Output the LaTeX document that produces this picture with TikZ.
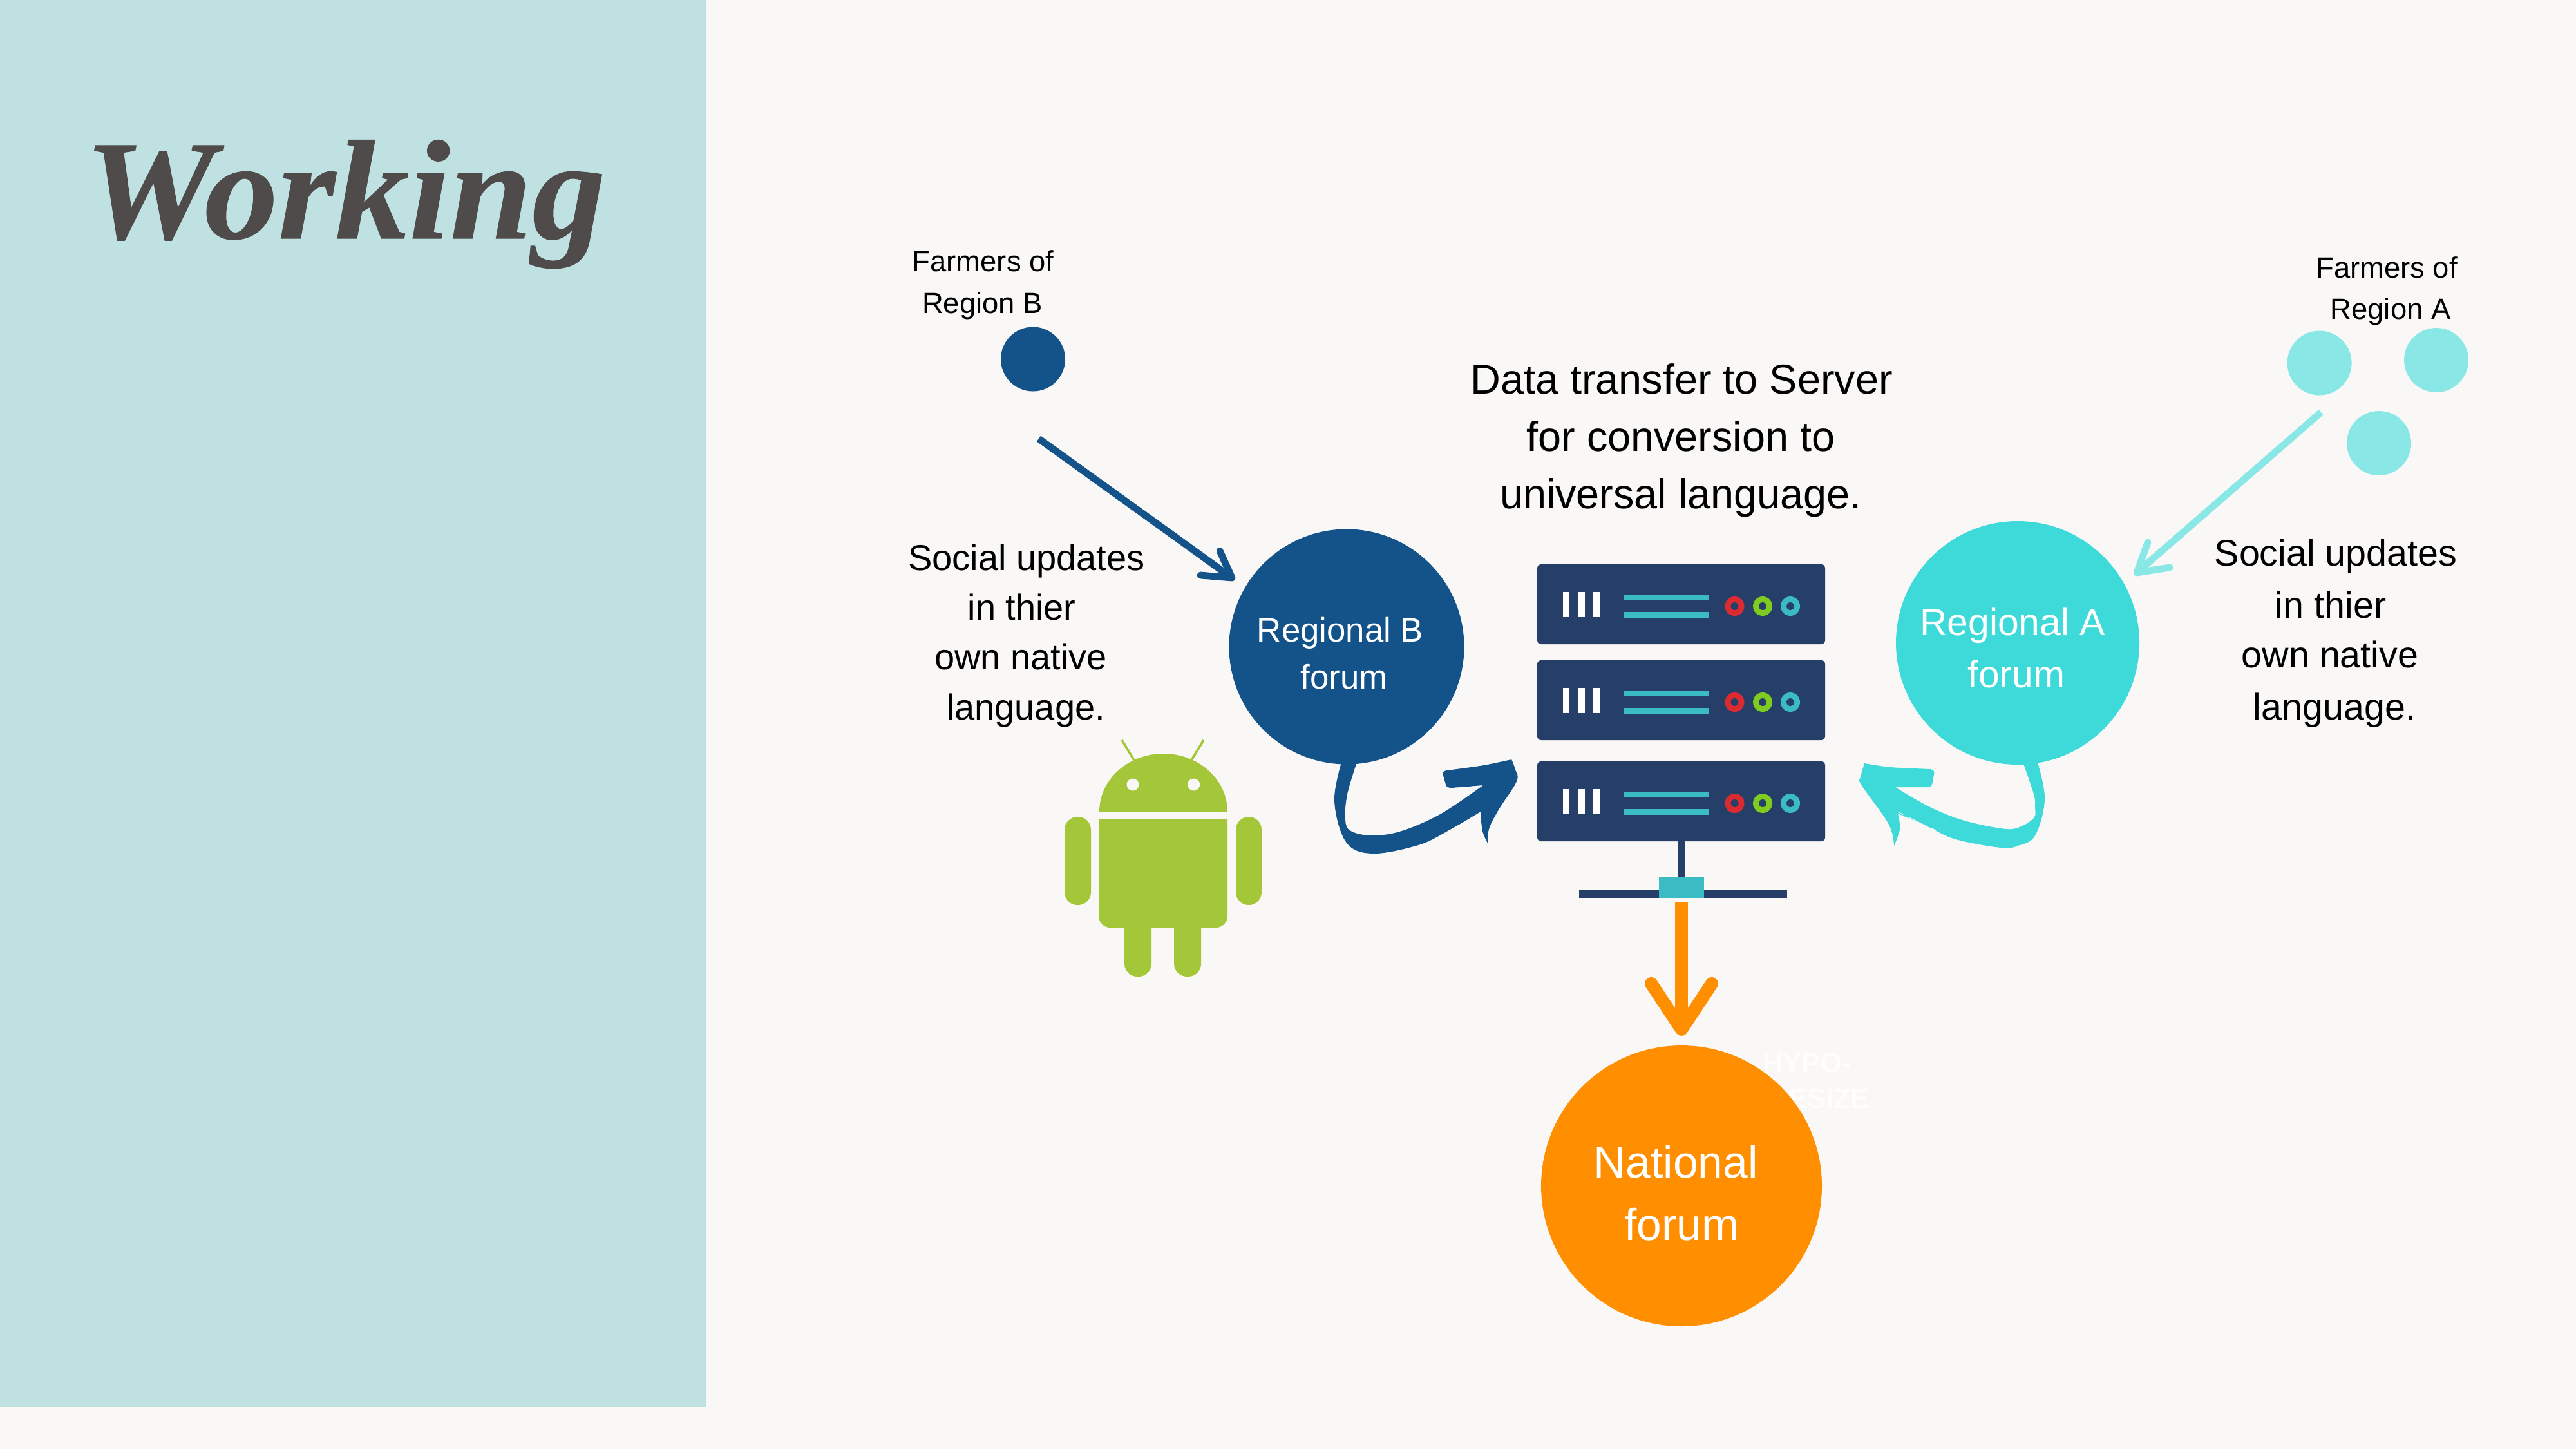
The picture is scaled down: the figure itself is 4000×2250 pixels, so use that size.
\documentclass[tikz,border=0pt]{standalone}
\usepackage{fontspec}
\setmainfont{Liberation Sans}
\newfontfamily\titlefont[BoldItalicFeatures={FakeBold=0.5}]{Liberation Serif}
\definecolor{pagebg}{HTML}{FAF8F6}
\definecolor{panel}{HTML}{BFE1E1}
\definecolor{titlec}{HTML}{504B4B}
\definecolor{blueB}{HTML}{13538A}
\definecolor{cyanA}{HTML}{3DDAD9}
\definecolor{cyanL}{HTML}{89E8E6}
\definecolor{orangeN}{HTML}{FF8F00}
\definecolor{navy}{HTML}{263F68}
\definecolor{teal}{HTML}{3BBBC3}
\definecolor{ledred}{HTML}{DC2A30}
\definecolor{ledgreen}{HTML}{7FCB1F}
\definecolor{droid}{HTML}{A4C639}
\definecolor{ghost}{HTML}{FEFDFC}
\tikzset{
  x=0.25pt,y=-0.25pt,
  every node/.style={inner sep=0pt,outer sep=0pt},
  lbl/.style={anchor=base,text=black},
  disc/.style={circle,minimum size=#1*0.25pt},
  thinarrow/.style={line width=2.7pt,line cap=round,line join=round},
}
\newcommand{\fs}[1]{\fontsize{#1}{#1}\selectfont}
\newcommand{\rack}[1]{%
  \fill[navy,rounded corners=1.5pt] (2387,#1) rectangle (2834,#1+124);
  \fill[white] (2427,#1+43) rectangle (2437,#1+82);
  \fill[white] (2450.5,#1+43) rectangle (2461,#1+82);
  \fill[white] (2474,#1+43) rectangle (2484,#1+82);
  \fill[teal] (2521,#1+47) rectangle (2653,#1+56);
  \fill[teal] (2521,#1+74) rectangle (2653,#1+83);
  \fill[ledred] (2693.5,#1+65) circle[radius=15];
  \fill[ledgreen] (2737,#1+65) circle[radius=15];
  \fill[teal] (2780,#1+65) circle[radius=15];
  \fill[navy] (2693.5,#1+65) circle[radius=6];
  \fill[navy] (2737,#1+65) circle[radius=6];
  \fill[navy] (2780,#1+65) circle[radius=6];
}
\begin{document}
\begin{tikzpicture}
\useasboundingbox (0,0) rectangle (4000,2250);
\fill[pagebg] (0,0) rectangle (4000,2250);
\fill[panel] (0,0) rectangle (1097,2185);
\node[anchor=base west,text=titlec,transform shape,xscale=1.04] (title) at (131,370) {\titlefont\bfseries\itshape\fontsize{55}{60}\selectfont Working};

% ghost text behind national circle
\node[anchor=base west,text=ghost] (ghostA) at (2737,1665) {\fs{10.9}\bfseries HYPO-};
\node[anchor=base east,text=ghost] (ghostB) at (2903,1720) {\fs{10.9}\bfseries ESIZE};

% farmers dots
\node[disc=100,fill=blueB] (dotB) at (1604,557.5) {};
\node[disc=100,fill=cyanL] (dotA1) at (3601.6,563.5) {};
\node[disc=100,fill=cyanL] (dotA2) at (3783,559) {};
\node[disc=100,fill=cyanL] (dotA3) at (3694,688) {};

% forums
\node[disc=365,fill=blueB] (forumB) at (2091,1004) {};
\node[disc=378,fill=cyanA] (forumA) at (3133,998) {};
\node[disc=436,fill=orangeN] (forumN) at (2611,1841) {};

% labels
\node[lbl] (fB1) at (1526.5,421.7) {\fs{11.35}Farmers of};
\node[lbl] (fB2) at (1525.5,486) {\fs{11.35}Region B};
\node[lbl] (fA1) at (3706,431) {\fs{11.35}Farmers of};
\node[lbl] (fA2) at (3712,495) {\fs{11.35}Region A};
\node[lbl] (sB1) at (1594,885) {\fs{14}Social updates};
\node[lbl] (sB2) at (1586.6,962) {\fs{14}in thier};
\node[lbl] (sB3) at (1585,1039.6) {\fs{14}own native};
\node[lbl] (sB4) at (1593,1117) {\fs{14}language.};
\node[lbl] (sA1) at (3627,878) {\fs{14.35}Social updates};
\node[lbl] (sA2) at (3619,959) {\fs{14.35}in thier};
\node[lbl] (sA3) at (3618,1036) {\fs{14.35}own native};
\node[lbl] (sA4) at (3625,1117) {\fs{14.35}language.};
\node[lbl] (d1) at (2611,611) {\fs{16.2}Data transfer to Server};
\node[lbl] (d2) at (2610,700) {\fs{16.2}for conversion to};
\node[lbl] (d3) at (2610,789) {\fs{16.2}universal language.};
\node[lbl,text=white] (rB1) at (2081,996) {\fs{13.2}Regional B};
\node[lbl,text=white] (rB2) at (2087,1069) {\fs{13.2}forum};
\node[lbl,text=white] (rA1) at (3125,986.6) {\fs{14.7}Regional A};
\node[lbl,text=white] (rA2) at (3131,1067) {\fs{14.7}forum};
\node[lbl,text=white] (n1) at (2602,1828) {\fs{17.4}National};
\node[lbl,text=white] (n2) at (2611,1925) {\fs{17.4}forum};

% thin arrows
\coordinate (bS) at (1613,681); \coordinate (bT) at (1913,897);
\coordinate (bW1) at (1894,855); \coordinate (bW2) at (1864,893);
\draw[blueB,thinarrow,line cap=butt] (bS) -- (bT);
\draw[blueB,thinarrow] (bW1) -- (bT) -- (bW2);
\coordinate (aS) at (3604,640); \coordinate (aT) at (3318,889);
\coordinate (aW1) at (3335,842); \coordinate (aW2) at (3369,881);
\draw[cyanL,thinarrow,line cap=butt] (aS) -- (aT);
\draw[cyanL,thinarrow] (aW1) -- (aT) -- (aW2);

% server
\rack{876}
\rack{1025}
\rack{1182}
\fill[navy] (2606,1306) rectangle (2616,1365);
\fill[navy] (2452,1382) rectangle (2775,1394);
\fill[teal] (2576,1361) rectangle (2646,1394);

% orange arrow
\coordinate (oS) at (2611,1400); \coordinate (oT) at (2611,1598);
\coordinate (oW1) at (2564,1527); \coordinate (oW2) at (2658,1527);
\draw[orangeN,line width=5pt,line cap=butt] (oS) -- (oT);
\draw[orangeN,line width=5pt,line cap=round,line join=round] (oW1) -- (oT) -- (oW2);

% blue curved arrow
\fill[blueB] plot[smooth,tension=.6] coordinates {(2084,1180) (2072,1243) (2090,1307) (2131,1325) (2202,1312) (2248,1290) (2299,1260)}
  -- plot[smooth,tension=.6] coordinates {(2299,1260) (2302,1290) (2310.7,1310)}
  -- plot[smooth,tension=.6] coordinates {(2310.7,1310) (2312,1287) (2327,1257) (2355,1213) (2353,1195) (2347,1179)}
  -- plot[smooth,tension=.5] coordinates {(2347,1179) (2304,1188) (2247,1196)}
  .. controls (2240,1197) and (2240,1200) .. (2241,1204) -- (2245,1218)
  .. controls (2246,1222) and (2250,1223) .. (2254,1223) -- (2303,1219)
  -- plot[smooth,tension=.6] coordinates {(2303,1219) (2238,1263) (2176.5,1290) (2130.6,1297) (2097.5,1290) (2089,1273) (2092,1233) (2108,1180)} -- cycle;
\draw[pagebg,line width=.4pt] (2298,1264) -- (2248,1291);
% cyan curved arrow
\fill[cyanA] plot[smooth,tension=.6] coordinates {(3163,1180) (3175,1240) (3160,1297) (3133,1313) (3107,1316) (3037,1303) (2993,1283) (2947,1263)}
  -- plot[smooth,tension=.6] coordinates {(2947,1263) (2950,1287) (2941,1313)}
  -- plot[smooth,tension=.6] coordinates {(2941,1313) (2938,1293) (2927,1270) (2890,1218) (2889,1207) (2895,1185)}
  -- plot[smooth,tension=.4] coordinates {(2895,1185) (2935,1191) (2997,1194)}
  .. controls (3003,1195) and (3004,1198) .. (3003,1202) -- (3001,1214)
  .. controls (3000,1220) and (2997,1222) .. (2993,1222) -- (2943,1222)
  -- plot[smooth,tension=.6] coordinates {(2943,1222) (2993,1251) (3047,1273) (3107,1286) (3133,1285) (3158,1270) (3160,1253) (3158,1233) (3140,1180)} -- cycle;
\draw[pagebg,line width=.3pt] (2949,1261) -- (2955,1265) (2962,1268) -- (2992,1283) (2999,1286) -- (3006,1289);

% android
\draw[droid,line width=.9pt] (1761,1180) -- (1742,1149);
\draw[droid,line width=.9pt] (1850,1180) -- (1869,1149);
\fill[droid] (1707,1260) arc[start angle=180,end angle=360,x radius=99.5,y radius=90] -- cycle;
\fill[pagebg] (1759,1218) circle[radius=9.5];
\fill[pagebg] (1853.6,1218) circle[radius=9.5];
\fill[droid] (1706,1272) -- (1906,1272) [rounded corners=4.5pt] -- (1906,1440) -- (1706,1440) [sharp corners] -- cycle;
\fill[droid,rounded corners=5pt] (1653,1268) rectangle (1694,1405);
\fill[droid,rounded corners=5pt] (1919,1268) rectangle (1959,1405);
\fill[droid] (1746,1430) -- (1788,1430) [rounded corners=5pt] -- (1788,1516) -- (1746,1516) [sharp corners] -- cycle;
\fill[droid] (1823,1430) -- (1865,1430) [rounded corners=5pt] -- (1865,1516) -- (1823,1516) [sharp corners] -- cycle;
\end{tikzpicture}
\end{document}
